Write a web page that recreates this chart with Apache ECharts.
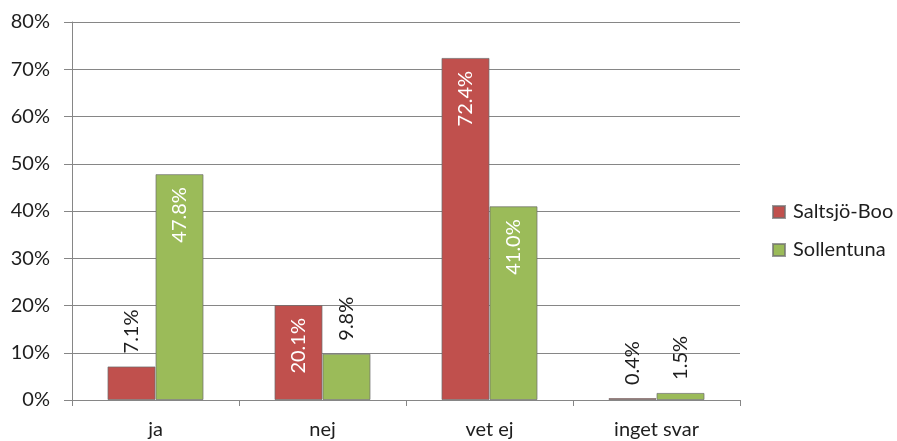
<!DOCTYPE html>
<html>
<head>
<meta charset="utf-8">
<script src="https://cdn.jsdelivr.net/npm/echarts@6/dist/echarts.min.js"></script>
<style>
  html, body { margin: 0; padding: 0; background: #fff; }
  #chart { width: 897px; height: 441px; }
</style>
</head>
<body>
<div id="chart"></div>
<script>
// Survey answers per municipality (percent)
const categories = ['ja', 'nej', 'vet ej', 'inget svar'];
const seriesNames = ['Saltsjö-Boo', 'Sollentuna'];
const saltsjoBoo = [7.1, 20.1, 72.4, 0.4];
const sollentuna = [47.8, 9.8, 41.0, 1.5];
const yTicks = [0, 10, 20, 30, 40, 50, 60, 70, 80];

const colors = ['#C0504D', '#9BBB59'];
const FONT = 'Lato, "Open Sans", sans-serif';
const FS = 20;

// Tall bars get a white label inside the top; short bars get a dark label above.
function withLabels(values) {
  return values.map(function (v) {
    const inside = v >= 15;
    return {
      value: v,
      label: inside
        ? { position: 'insideTop', rotate: 90, align: 'right', verticalAlign: 'middle', distance: 13, color: '#fff' }
        : { position: 'top', rotate: 90, align: 'left', verticalAlign: 'middle', distance: 13, color: '#1e1e1e' }
    };
  });
}

const chart = echarts.init(document.getElementById('chart'));
chart.setOption({
  animation: false,
  textStyle: { fontFamily: FONT },
  grid: { left: 72, right: 157, top: 22, bottom: 41 },
  legend: {
    orient: 'vertical',
    left: 767,
    top: 197,
    itemWidth: 12,
    itemHeight: 12,
    itemGap: 18,
    icon: 'rect',
    textStyle: { fontSize: FS, color: '#1e1e1e', fontFamily: FONT, padding: [0, 0, 0, 3] },
    data: seriesNames
  },
  xAxis: {
    type: 'category',
    data: categories,
    axisLine: { lineStyle: { color: '#868686', width: 1 } },
    axisTick: { show: true, alignWithLabel: false, length: 6, lineStyle: { color: '#868686' } },
    axisLabel: { fontSize: FS, color: '#1e1e1e', margin: 20, fontFamily: FONT }
  },
  yAxis: {
    type: 'value',
    min: yTicks[0],
    max: yTicks[yTicks.length - 1],
    interval: 10,
    axisLine: { show: true, lineStyle: { color: '#868686', width: 1 } },
    axisTick: { show: true, inside: false, length: 8, lineStyle: { color: '#868686' } },
    axisLabel: { fontSize: FS, color: '#1e1e1e', margin: 22, fontFamily: FONT, formatter: '{value}%' },
    splitLine: { lineStyle: { color: '#868686', width: 1 } }
  },
  series: [
    {
      name: seriesNames[0],
      type: 'bar',
      data: withLabels(saltsjoBoo),
      barGap: '0%',
      barCategoryGap: '42.5%',
      itemStyle: { color: colors[0], borderColor: 'rgba(110,110,110,0.7)', borderWidth: 1 },
      label: { show: true, fontSize: FS, fontFamily: FONT, formatter: function (p) { return p.value.toFixed(1) + '%'; } }
    },
    {
      name: seriesNames[1],
      type: 'bar',
      data: withLabels(sollentuna),
      barGap: '0%',
      barCategoryGap: '42.5%',
      itemStyle: { color: colors[1], borderColor: 'rgba(110,110,110,0.7)', borderWidth: 1 },
      label: { show: true, fontSize: FS, fontFamily: FONT, formatter: function (p) { return p.value.toFixed(1) + '%'; } }
    }
  ]
});
</script>
</body>
</html>
